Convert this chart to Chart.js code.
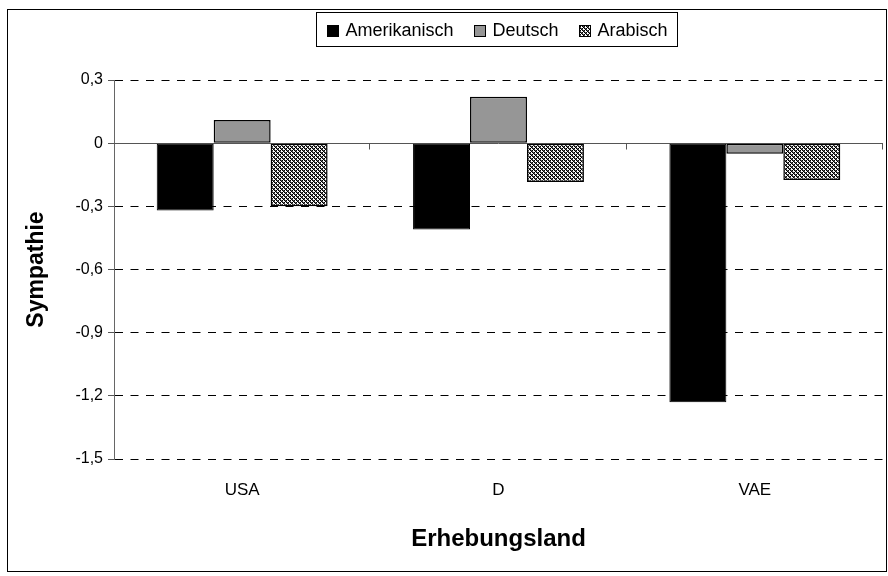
<!DOCTYPE html>
<html>
<head>
<meta charset="utf-8">
<script src="https://cdn.jsdelivr.net/npm/chart.js@4/dist/chart.umd.min.js"></script>
<style>
  html, body { margin: 0; padding: 0; background: #fff; }
  #wrap { width: 888px; height: 576px; }
</style>
</head>
<body>
<div id="wrap"><canvas id="c" width="888" height="576"></canvas></div>
<script>
// Sympathie je Erhebungsland
const categories = ['USA', 'D', 'VAE'];
const seriesNames = ['Amerikanisch', 'Deutsch', 'Arabisch'];
const amerikanisch = [-0.32, -0.41, -1.23];
const deutsch = [0.11, 0.22, -0.05];
const arabisch = [-0.30, -0.185, -0.175];
const yMin = -1.5;
const yMax = 0.3;
const yStep = 0.3;

const FONT = "'Liberation Sans', Arial, sans-serif";

// fine diagonal hatch fill
function makeHatch() {
  const n = 4;
  const c = document.createElement('canvas');
  c.width = n; c.height = n;
  const g = c.getContext('2d');
  g.fillStyle = '#fff';
  g.fillRect(0, 0, n, n);
  for (let y = 0; y < n; y++) {
    for (let x = 0; x < n; x++) {
      const d = (((x - y) % n) + n) % n;
      if (d === 0) { g.fillStyle = '#000'; g.fillRect(x, y, 1, 1); }
      else if (d === 2 && (x % 2 === 0)) { g.fillStyle = '#000'; g.fillRect(x, y, 1, 1); }
      else if (d === 1) { g.fillStyle = '#555'; g.fillRect(x, y, 1, 1); }
    }
  }
  return g.createPattern(c, 'repeat');
}
const hatch = makeHatch();

function fmt(v) {
  if (Math.abs(v) < 1e-9) return '0';
  return v.toFixed(1).replace('.', ',');
}

// zero line with category separator ticks, plus outer frame and boxed legend
const decorations = {
  id: 'decorations',
  beforeDatasetsDraw(chart) {
    const { ctx, chartArea } = chart;
    const y0 = Math.round(chart.scales.y.getPixelForValue(0)) + 0.5;
    ctx.save();
    ctx.strokeStyle = '#555';
    ctx.lineWidth = 1;
    ctx.setLineDash([]);
    ctx.beginPath();
    ctx.moveTo(chartArea.left, y0);
    ctx.lineTo(chartArea.right, y0);
    const n = categories.length;
    const w = (chartArea.right - chartArea.left) / n;
    for (let k = 1; k <= n; k++) {
      const x = Math.round(chartArea.left + k * w) - 0.5;
      ctx.moveTo(x, y0);
      ctx.lineTo(x, y0 + 6);
    }
    ctx.stroke();
    ctx.restore();
  },
  afterDraw(chart) {
    const { ctx } = chart;
    ctx.save();
    // outer frame
    ctx.strokeStyle = '#000';
    ctx.lineWidth = 1;
    ctx.strokeRect(7.5, 9.5, 879, 562);

    // legend
    ctx.font = '18px ' + FONT;
    ctx.textBaseline = 'middle';
    const sw = 11, gapT = 8, gapI = 20, padX = 10;
    const items = chart.data.datasets.map(ds => ({
      label: ds.label, fill: ds.backgroundColor, w: ctx.measureText(ds.label).width
    }));
    let total = 0;
    items.forEach((it, i) => { total += sw + gapT + it.w + (i ? gapI : 0); });
    const boxW = Math.round(total + padX * 2);
    const cx = 496;
    const left = Math.round(cx - boxW / 2) + 0.5;
    const top = 12.5, boxH = 34;
    ctx.fillStyle = '#fff';
    ctx.fillRect(left, top, boxW, boxH);
    ctx.strokeStyle = '#000';
    ctx.strokeRect(left, top, boxW, boxH);
    const my = top + boxH / 2;
    let x = left + padX;
    items.forEach((it, i) => {
      if (i) x += gapI;
      const sy = Math.round(my - sw / 2) + 1.5;
      ctx.fillStyle = it.fill;
      ctx.fillRect(Math.round(x) + 0.5, sy, sw, sw);
      ctx.strokeStyle = '#000';
      ctx.strokeRect(Math.round(x) + 0.5, sy, sw, sw);
      x += sw + gapT;
      ctx.fillStyle = '#000';
      ctx.textAlign = 'left';
      ctx.fillText(it.label, x, my + 2);
      x += it.w;
    });
    ctx.restore();
  }
};

new Chart(document.getElementById('c'), {
  type: 'bar',
  data: {
    labels: categories,
    datasets: [
      { label: seriesNames[0], data: amerikanisch, backgroundColor: '#000', borderColor: '#000', borderWidth: 1 },
      { label: seriesNames[1], data: deutsch, backgroundColor: '#969696', borderColor: '#000', borderWidth: 1.5 },
      { label: seriesNames[2], data: arabisch, backgroundColor: hatch, borderColor: '#000', borderWidth: 1.5 }
    ]
  },
  options: {
    responsive: false,
    animation: false,
    devicePixelRatio: 1,
    layout: { padding: { left: 0, right: 5, top: 80, bottom: 0 } },
    plugins: {
      legend: { display: false },
      tooltip: { enabled: false }
    },
    datasets: {
      bar: { barPercentage: 1, categoryPercentage: 2 / 3, borderSkipped: false }
    },
    scales: {
      x: {
        grid: { display: false, drawTicks: false },
        border: { display: false },
        ticks: { color: '#000', font: { family: FONT, size: 17 }, padding: 21 },
        title: {
          display: true, text: 'Erhebungsland', color: '#000',
          font: { family: FONT, size: 24, weight: 'bold' },
          padding: { top: 0, bottom: 22 }
        },
        afterFit(scale) { scale.height = 117; }
      },
      y: {
        min: yMin,
        max: yMax,
        ticks: {
          stepSize: yStep, color: '#000', padding: 5,
          font: { family: FONT, size: 16 },
          callback: (v) => fmt(v)
        },
        grid: {
          color: '#000', lineWidth: 1, drawTicks: true, tickLength: 6,
          tickColor: '#555', tickBorderDash: []
        },
        border: { display: true, color: '#666', width: 1, dash: [8, 7.5] },
        title: {
          display: true, text: 'Sympathie', color: '#000',
          font: { family: FONT, size: 23, weight: 'bold' },
          padding: { top: 23, bottom: 0 }
        },
        afterFit(scale) { scale.width = 114; }
      }
    }
  },
  plugins: [decorations]
});
</script>
</body>
</html>
